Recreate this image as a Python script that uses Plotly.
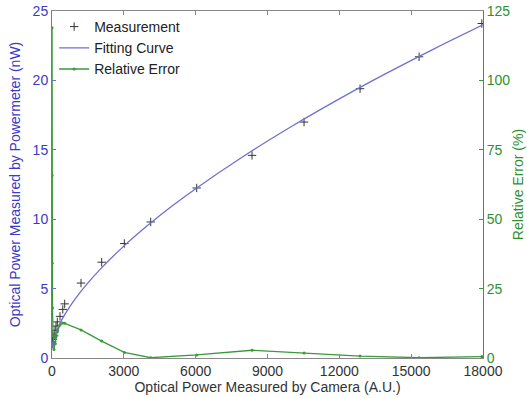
import plotly.graph_objects as go

# Measurement data (camera A.U. vs powermeter nW)
meas_x = [2, 5, 10, 20, 45, 84, 125, 167, 222, 334, 450, 530, 1211, 2074, 3020,
          4122, 6043, 8354, 10526, 12865, 15330, 17950]
meas_y = [1.7, 1.45, 1.2, 1.0, 1.35, 1.6, 2.0, 2.3, 2.6, 3.0, 3.5, 3.9, 5.4, 6.9,
          8.25, 9.8, 12.25, 14.6, 17.0, 19.4, 21.7, 24.1]

# Fitting curve samples
fit_x = [0, 10, 25, 50, 100, 200, 350, 500, 750, 1000, 1500, 2000, 3000, 4000,
         5000, 6000, 8000, 10000, 12000, 14000, 16000, 18000]
fit_y = [0.7, 0.89, 1.04, 1.23, 1.52, 1.99, 2.55, 3.03, 3.72, 4.33, 5.41, 6.37,
         8.06, 9.56, 10.93, 12.20, 14.54, 16.68, 18.67, 20.54, 22.31, 24.00]

# Relative error (%)
err_x = [2, 5, 10, 20, 45, 84, 125, 167, 222, 334, 450, 530, 1211, 2074, 3020,
         4122, 6043, 8354, 10526, 12865, 15330, 17950]
err_y = [119, 65.7, 34.1, 18, 8, 3.1, 5.3, 7.7, 9.5, 11.9, 12.6, 12.5, 10.1, 6.1,
         2.0, 0.1, 1.1, 2.8, 1.8, 0.7, 0.1, 0.5]

x_ticks = [0, 3000, 6000, 9000, 12000, 15000, 18000]
y_ticks = [0, 5, 10, 15, 20, 25]
y2_ticks = [0, 25, 50, 75, 100, 125]

BLUE = "#3a3ac4"
CURVE = "#7070d0"
GREEN = "#2f8f2f"
GLINE = "#3a9a3a"
FONT = "Liberation Sans, Arial, sans-serif"

fig = go.Figure()
fig.add_trace(go.Scatter(
    x=meas_x, y=meas_y, mode="markers", name="Measurement",
    marker=dict(symbol="cross-thin", size=6, color="#333333",
                line=dict(color="#333333", width=1)),
))
fig.add_trace(go.Scatter(
    x=fit_x, y=fit_y, mode="lines", name="Fitting Curve",
    line=dict(color=CURVE, width=1.3, shape="spline"),
))
fig.add_trace(go.Scatter(
    x=err_x, y=err_y, mode="lines+markers", name="Relative Error",
    yaxis="y2",
    line=dict(color=GLINE, width=1.3),
    marker=dict(symbol="circle", size=3, color=GLINE),
))

fig.update_layout(
    width=527, height=398,
    margin=dict(l=52, r=44, t=11, b=40),
    paper_bgcolor="white", plot_bgcolor="white",
    font=dict(family=FONT, size=14, color="#333333"),
    showlegend=True,
    legend=dict(x=0.005, y=1.0, xanchor="left", yanchor="top",
                bgcolor="rgba(255,255,255,0)", borderwidth=0,
                font=dict(size=14, color="#222222"),
                tracegroupgap=0, itemwidth=30),
    xaxis=dict(
        range=[0, 18000], tickvals=x_ticks, ticktext=[str(v) for v in x_ticks],
        showgrid=False, zeroline=False, showline=True, linecolor="#888888",
        linewidth=1, mirror="ticks", ticks="inside", ticklen=4,
        tickcolor="#888888", automargin=False,
        tickfont=dict(size=14, color="#333333"),
        title=dict(text="Optical Power Measured by Camera (A.U.)",
                   font=dict(size=14, color="#333333"), standoff=2),
    ),
    yaxis=dict(
        range=[0, 25], tickvals=y_ticks, ticktext=[str(v) for v in y_ticks],
        showgrid=False, zeroline=False, showline=True, linecolor=CURVE,
        linewidth=1, ticks="inside", ticklen=4, tickcolor=CURVE,
        automargin=False,
        tickfont=dict(size=14, color=BLUE),
        title=dict(text="Optical Power Measured by Powermeter (nW)",
                   font=dict(size=14, color=BLUE), standoff=8),
    ),
    yaxis2=dict(
        range=[0, 125], tickvals=y2_ticks, ticktext=[str(v) for v in y2_ticks],
        overlaying="y", side="right",
        showgrid=False, zeroline=False, showline=True, linecolor=GLINE,
        linewidth=1, ticks="inside", ticklen=4, tickcolor=GLINE,
        automargin=False,
        tickfont=dict(size=14, color=GREEN),
        title=dict(text="Relative Error (%)",
                   font=dict(size=14, color=GREEN), standoff=3),
    ),
)

fig.write_html("out.html")
